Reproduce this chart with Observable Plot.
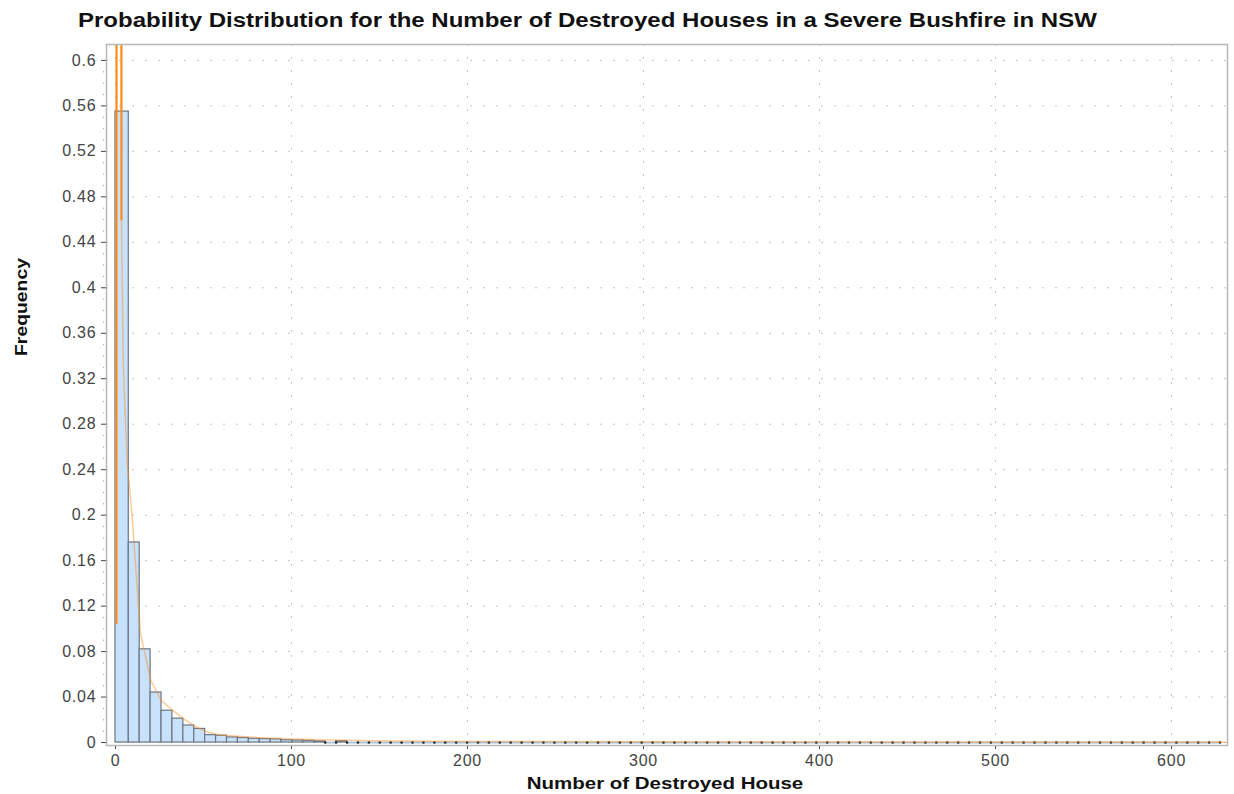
<!DOCTYPE html>
<html>
<head>
<meta charset="utf-8">
<script src="https://cdn.jsdelivr.net/npm/d3@7"></script>
<script src="https://cdn.jsdelivr.net/npm/@observablehq/plot@0.6"></script>
<style>
  html, body { margin: 0; padding: 0; background: #fff; }
  #wrap { position: relative; width: 1234px; height: 794px; overflow: hidden; font-family: "Liberation Sans", Arial, sans-serif; }
  #title { position: absolute; left: 78px; top: 9px; font-weight: bold; font-size: 20px; color: #111; white-space: nowrap; transform: scaleX(1.2); transform-origin: 0 50%; }
  #xlabel { position: absolute; left: 665px; top: 784px; font-weight: bold; font-size: 16px; color: #111; white-space: nowrap; transform: translate(-50%, -50%) scaleX(1.28); }
  #ylabel { position: absolute; left: 22px; top: 307px; transform: translate(-50%, -50%) rotate(-90deg) scaleX(1.21); font-weight: bold; font-size: 16px; color: #111; white-space: nowrap; }
  #chart { position: absolute; left: 0; top: 0; }
</style>
</head>
<body>
<div id="wrap">
  <div id="chart"></div>
  <div id="title">Probability Distribution for the Number of Destroyed Houses in a Severe Bushfire in NSW</div>
  <div id="ylabel">Frequency</div>
  <div id="xlabel">Number of Destroyed House</div>
</div>
<script>
// Histogram: relative frequency per bin (101 bins)
const binStart = 1.36;
const binWidth = 6.2;
const freq = [
  0.555, 0.176, 0.082, 0.044, 0.028, 0.021, 0.015, 0.012, 0.0065, 0.006,
  0.0045, 0.004, 0.0033, 0.003, 0.0028, 0.002, 0.0018, 0.0015, 0.001, 0,
  0.0012, 0, 0, 0, 0, 0, 0, 0, 0, 0,
  0, 0, 0, 0, 0, 0, 0, 0, 0, 0,
  0, 0, 0, 0, 0, 0, 0, 0, 0, 0,
  0, 0, 0, 0, 0, 0, 0, 0, 0, 0,
  0, 0, 0, 0, 0, 0, 0, 0, 0, 0,
  0, 0, 0, 0, 0, 0, 0, 0, 0, 0,
  0, 0, 0, 0, 0, 0, 0, 0, 0, 0,
  0, 0, 0, 0, 0, 0, 0, 0, 0, 0,
  0
];

// Fitted density curve: sharp spike near zero
const spikeX = [0.55, 0.6, 3.3, 3.4];
const spikeY = [0.105, 1.0, 1.0, 0.46];
// Fitted density curve: decaying tail
const curveX = [3.4, 4.5, 6.5, 9.5, 14.2, 20, 26, 32, 38.5, 44.5, 50.7, 57, 63, 70, 80, 90, 100, 115, 130, 160, 200, 300, 400, 500, 632];
const curveY = [0.46, 0.33, 0.25, 0.198, 0.096, 0.055, 0.037, 0.029, 0.021, 0.015, 0.010, 0.0075, 0.0062, 0.0055, 0.0045, 0.0038, 0.0032, 0.0025, 0.002, 0.0014, 0.0010, 0.0006, 0.0004, 0.0003, 0.0002];

// Axis ticks
const xTicks = [0, 100, 200, 300, 400, 500, 600];
const yTicks = [0, 0.04, 0.08, 0.12, 0.16, 0.2, 0.24, 0.28, 0.32, 0.36, 0.4, 0.44, 0.48, 0.52, 0.56, 0.6];
const yMinor = d3.range(0, 61).map(i => i / 100).filter(v => Math.round(v * 100) % 4 !== 0);

const bins = freq.map((f, i) => ({
  x1: i === 0 ? 0 : binStart + binWidth * i,
  x2: binStart + binWidth * (i + 1),
  f
}));
const filled = bins.filter(b => b.f > 0);
const empty = bins.filter(b => b.f === 0);
const emptyEdges = Array.from(new Set(empty.flatMap(b => [b.x1, b.x2])));
const spike = spikeX.map((x, i) => ({x, y: spikeY[i]}));
const curve = curveX.map((x, i) => ({x, y: curveY[i]}));

const chart = Plot.plot({
  width: 1234,
  height: 794,
  marginTop: 44,
  marginBottom: 49,
  marginLeft: 106,
  marginRight: 7,
  style: { fontFamily: "Liberation Sans, Arial, sans-serif", fontSize: "16px", letterSpacing: "0.8px", color: "#444", background: "#fff" },
  x: { domain: [-5.1, 631.8], ticks: xTicks, tickFormat: d => String(d), tickSize: 4, tickPadding: 5, label: null },
  y: { domain: [-0.0026, 0.614], ticks: yTicks, tickFormat: d => String(+d.toFixed(2)), tickSize: 5, tickPadding: 5, label: null },
  marks: [
    Plot.ruleY(yTicks, { stroke: "#c4c4c4", strokeDasharray: "2,11" }),
    Plot.ruleX(xTicks, { stroke: "#c4c4c4", strokeDasharray: "2,11" }),
    Plot.dot(yMinor, { y: d => d, frameAnchor: "left", dx: -3, r: 0.7, fill: "#aaa", stroke: null }),
    Plot.ruleY(empty, { y: () => 0, x1: "x1", x2: "x2", stroke: "#a9c4dd", strokeWidth: 2 }),
    Plot.rectY(filled, { x1: "x1", x2: "x2", y: "f", fill: "#c8e2fb", stroke: "#6b7682", strokeWidth: 1.2 }),
    Plot.dot(emptyEdges, { x: d => d, y: () => 0, r: 1.3, fill: "#222", stroke: null }),
    Plot.line(curve, { x: "x", y: "y", stroke: "#ff8c1a", strokeOpacity: 0.45, strokeWidth: 1.5, clip: true }),
    Plot.line(spike, { x: "x", y: "y", stroke: "#ff8c1a", strokeWidth: 2.2, clip: true }),
    Plot.frame({ stroke: "#b8b8b8", strokeWidth: 1.5 })
  ]
});
document.getElementById("chart").appendChild(chart);
</script>
</body>
</html>
